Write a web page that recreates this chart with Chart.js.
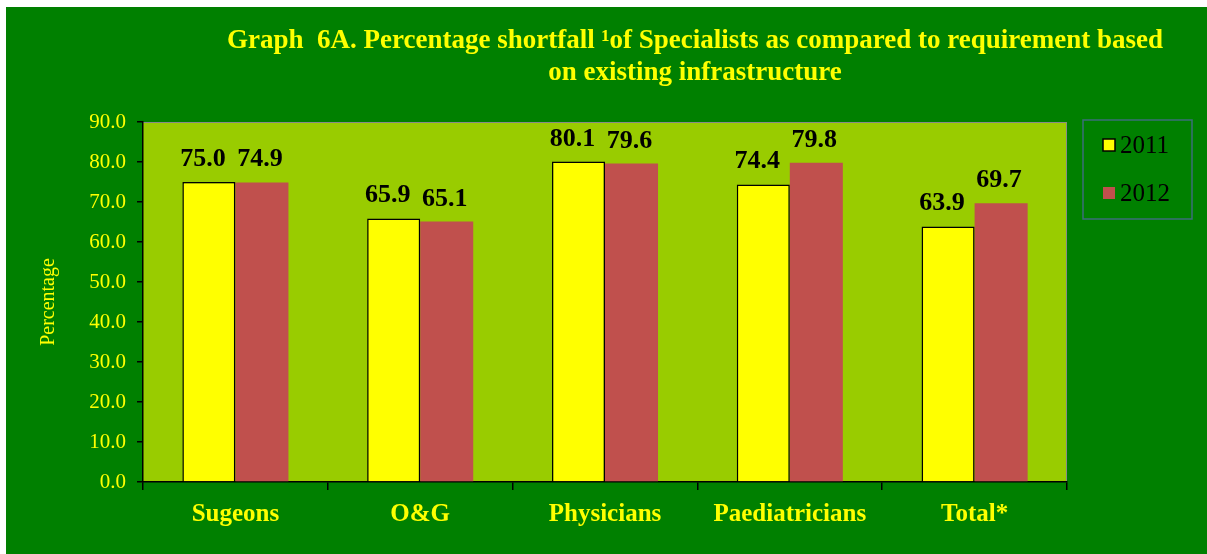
<!DOCTYPE html>
<html>
<head>
<meta charset="utf-8">
<script src="https://cdn.jsdelivr.net/npm/chart.js@4.4.1/dist/chart.umd.min.js"></script>
<style>
  html, body { margin: 0; padding: 0; background: #fff; }
  #wrap { position: absolute; left: 6px; top: 7px; width: 1201px; height: 547px; background: #008000; }
  canvas { display: block; }
</style>
</head>
<body>
<div id="wrap"><canvas id="chart" width="1201" height="547"></canvas></div>
<script>
// ---- data ----
const categories = ['Sugeons', 'O&G', 'Physicians', 'Paediatricians', 'Total*'];
const values2011 = [75.0, 65.9, 80.1, 74.4, 63.9];
const values2012 = [74.9, 65.1, 79.6, 79.8, 69.7];
const seriesNames = ['2011', '2012'];
const titleLines = [
  'Graph  6A. Percentage shortfall \u00B9of Specialists as compared to requirement based',
  'on existing infrastructure'
];

const SERIF = '"Liberation Serif", "Times New Roman", serif';
const YELLOW = '#ffff00';
const RED = '#c0504d';

// plot area fill + frame
const plotBg = {
  id: 'plotBg',
  beforeDraw(chart) {
    const { ctx, chartArea: a } = chart;
    ctx.save();
    ctx.fillStyle = '#99cc00';
    ctx.fillRect(a.left, a.top, a.right - a.left, a.bottom - a.top);
    ctx.strokeStyle = '#8a8a8a';
    ctx.lineWidth = 1;
    ctx.beginPath();
    ctx.moveTo(a.left, a.top + 0.5);
    ctx.lineTo(a.right - 0.5, a.top + 0.5);
    ctx.lineTo(a.right - 0.5, a.bottom);
    ctx.stroke();
    ctx.restore();
  }
};

// value labels above bars
const valueLabels = {
  id: 'valueLabels',
  afterDatasetsDraw(chart) {
    const { ctx } = chart;
    ctx.save();
    ctx.font = 'bold 26px ' + SERIF;
    ctx.fillStyle = '#000';
    ctx.textAlign = 'center';
    ctx.textBaseline = 'alphabetic';
    chart.data.datasets.forEach((ds, i) => {
      chart.getDatasetMeta(i).data.forEach((bar, j) => {
        ctx.fillText(ds.data[j].toFixed(1), bar.x - (i === 0 ? 6 : 2), bar.y - 16);
      });
    });
    ctx.restore();
  }
};

// title + legend box
const extras = {
  id: 'extras',
  afterDraw(chart) {
    const { ctx } = chart;
    ctx.save();
    ctx.font = 'bold 27px ' + SERIF;
    ctx.fillStyle = '#ffff00';
    ctx.textAlign = 'center';
    ctx.textBaseline = 'alphabetic';
    ctx.fillText(titleLines[0], 689, 41);
    ctx.fillText(titleLines[1], 689, 73);

    // legend
    ctx.strokeStyle = '#3b6e7a';
    ctx.lineWidth = 1.5;
    ctx.strokeRect(1077, 113, 109, 99);
    ctx.font = '25px ' + SERIF;
    ctx.textAlign = 'left';
    ctx.textBaseline = 'middle';
    const rows = [138, 186];
    chart.data.datasets.forEach((ds, i) => {
      const y = rows[i];
      ctx.fillStyle = ds.backgroundColor;
      ctx.fillRect(1097, y - 6, 12, 12);
      if (ds.borderWidth) {
        ctx.strokeStyle = '#000';
        ctx.lineWidth = 1.5;
        ctx.strokeRect(1097, y - 6, 12, 12);
      }
      ctx.fillStyle = '#000';
      ctx.fillText(ds.label, 1114, y + 1);
    });
    ctx.restore();
  }
};

new Chart(document.getElementById('chart'), {
  type: 'bar',
  data: {
    labels: categories,
    datasets: [
      {
        label: seriesNames[0],
        data: values2011,
        backgroundColor: YELLOW,
        borderColor: '#000',
        borderWidth: 1.5,
        borderSkipped: 'bottom'
      },
      {
        label: seriesNames[1],
        data: values2012,
        backgroundColor: RED,
        borderWidth: 0
      }
    ]
  },
  options: {
    responsive: false,
    animation: false,
    devicePixelRatio: 1,
    layout: { padding: { top: 115, right: 140, left: 0, bottom: 0 } },
    datasets: { bar: { categoryPercentage: 0.574, barPercentage: 1.0 } },
    plugins: {
      legend: { display: false },
      tooltip: { enabled: false }
    },
    scales: {
      x: {
        afterFit: (scale) => { scale.height = 72; },
        grid: {
          display: true,
          drawOnChartArea: false,
          offset: true,
          tickLength: 8,
          color: '#000',
          lineWidth: 1.5
        },
        border: { color: '#000', width: 1.5 },
        ticks: {
          color: '#ffff00',
          padding: 10,
          font: { family: SERIF, size: 25, weight: 'bold' }
        }
      },
      y: {
        min: 0,
        max: 90,
        afterFit: (scale) => { scale.width = 137; },
        grid: {
          display: true,
          drawOnChartArea: false,
          tickLength: 6,
          color: '#000',
          lineWidth: 1.5
        },
        border: { color: '#000', width: 1.5 },
        ticks: {
          stepSize: 10,
          color: '#ffff00',
          padding: 11,
          font: { family: SERIF, size: 21 },
          callback: (v) => v.toFixed(1)
        },
        title: {
          display: true,
          text: 'Percentage',
          color: '#ffff00',
          padding: { top: 31, bottom: 0 },
          font: { family: SERIF, size: 20 }
        }
      }
    }
  },
  plugins: [plotBg, valueLabels, extras]
});
</script>
</body>
</html>
